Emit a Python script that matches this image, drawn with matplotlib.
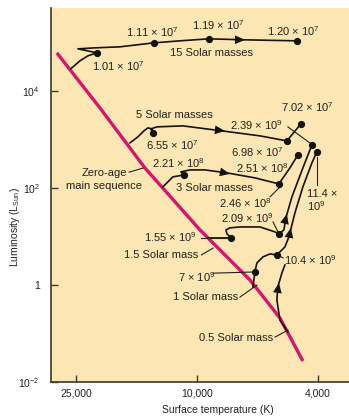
import matplotlib
matplotlib.use("Agg")
import matplotlib.pyplot as plt

plt.rcParams['font.family'] = ['Liberation Sans', 'DejaVu Sans']
plt.rcParams['mathtext.fontset'] = 'custom'
plt.rcParams['mathtext.rm'] = 'Liberation Sans'
plt.rcParams['mathtext.it'] = 'Liberation Sans:italic'
plt.rcParams['mathtext.bf'] = 'Liberation Sans:bold'

# zero-age main sequence (temperature K, luminosity L_sun)
zams_T = [28900, 20850, 14830, 9770, 6694, 5333, 4481]
zams_L = [60750, 4462, 258, 13.6, 1.27, 0.209, 0.0271]

# evolutionary tracks
m15_T = [26000, 24260, 22830, 21320, 24630, 21650, 17900, 13850, 11370, 9130, 6950, 4690]
m15_L = [28400, 41550, 52700, 60750, 73450, 77000, 80800, 97650, 107400, 118100, 112600, 107400]
m15_dots = [3, 7, 9, 11]

m5_T = [16610, 15640, 14940, 14500, 14060, 13950, 14170, 13540, 11120, 8275, 6203, 5058, 4549]
m5_L = [847, 1126, 1497, 1726, 1646, 1361, 1646, 1810, 1898, 1497, 1181, 931, 2087]
m5_dots = [5, 11, 12]

m3_T = [12940, 11990, 11030, 11290, 10540, 9410, 7966, 6446, 5375, 4944, 4654]
m3_L = [105, 169, 185, 214, 235, 235, 204, 161, 121, 258, 479]
m3_dots = [2, 8, 10]

m15s_T = [9200, 7728, 7966, 8027, 7787, 7219, 6203, 5540, 5375, 5175, 5097, 4870, 4481, 4185]
m15s_L = [9.31, 9.31, 11.3, 13.6, 15.0, 15.7, 15.7, 12.4, 11.3, 13.6, 24.1, 65.2, 258, 770]
m15s_dots = [1, 8, 13]

m1_T = [6545, 6495, 6446, 6349, 6066, 5754, 5457, 5135, 4982, 4760, 4481, 4185, 4030]
m1_L = [0.91, 1.27, 1.85, 2.84, 3.78, 4.36, 4.16, 6.07, 9.77, 30.5, 105, 328, 553]
m1_dots = [2, 6, 12]

m05_T = [5020, 5333, 5457, 5416, 5253, 5135]
m05_L = [0.107, 0.190, 0.491, 0.91, 1.77, 2.58]

# arrowheads: (tail T, tail L, head T, head L)
arrows = [
    (7500, 113000, 6950, 112600),
    (8730, 1570, 8090, 1497),
    (8400, 214, 7790, 194),
    (5135, 19.9, 5058, 29.1),
    (4982, 9.31, 4907, 15.0),
    (5437, 0.684, 5375, 1.10),
]

x_ticks = [25000, 10000, 4000]
x_ticklabels = ['25,000', '10,000', '4,000']
y_ticks = [0.01, 1, 100, 1e4]
y_ticklabels = ['10$^{-2}$', '1', '10$^2$', '10$^4$']

# labels: text, axes-fraction position, alignment
labels = [
    ('1.01 × 10$^7$', 0.225, 0.845, 'center'),
    ('1.11 × 10$^7$', 0.339, 0.936, 'center'),
    ('1.19 × 10$^7$', 0.560, 0.955, 'center'),
    ('1.20 × 10$^7$', 0.812, 0.939, 'center'),
    ('15 Solar masses', 0.540, 0.880, 'center'),
    ('5 Solar masses', 0.413, 0.714, 'center'),
    ('6.55 × 10$^7$', 0.406, 0.634, 'center'),
    ('2.39 × 10$^9$', 0.688, 0.687, 'center'),
    ('7.02 × 10$^7$', 0.859, 0.735, 'center'),
    ('6.98 × 10$^7$', 0.691, 0.615, 'center'),
    ('2.21 × 10$^8$', 0.426, 0.586, 'center'),
    ('2.51 × 10$^8$', 0.708, 0.572, 'center'),
    ('3 Solar masses', 0.547, 0.519, 'center'),
    ('2.46 × 10$^8$', 0.651, 0.479, 'center'),
    ('2.09 × 10$^9$', 0.658, 0.439, 'center'),
    ('Zero-age', 0.178, 0.559, 'center'),
    ('main sequence', 0.178, 0.524, 'center'),
    ('11.4 ×', 0.859, 0.503, 'left'),
    ('10$^9$', 0.859, 0.471, 'left'),
    ('1.55 × 10$^9$', 0.399, 0.388, 'center'),
    ('1.5 Solar mass', 0.369, 0.340, 'center'),
    ('7 × 10$^9$', 0.490, 0.281, 'center'),
    ('1 Solar mass', 0.517, 0.227, 'center'),
    ('10.4 × 10$^9$', 0.869, 0.326, 'center'),
    ('0.5 Solar mass', 0.621, 0.118, 'center'),
]

leaders = [
    (0.795, 0.682, 0.869, 0.639),
    (0.262, 0.561, 0.309, 0.572),
    (0.735, 0.495, 0.768, 0.521),
    (0.745, 0.428, 0.762, 0.401),
    (0.893, 0.602, 0.893, 0.527),
    (0.505, 0.385, 0.594, 0.385),
    (0.505, 0.340, 0.544, 0.358),
    (0.544, 0.291, 0.674, 0.294),
    (0.634, 0.227, 0.691, 0.259),
    (0.758, 0.340, 0.779, 0.332),
    (0.752, 0.120, 0.795, 0.139),
]

bg = '#fce6b3'
ink = '#15130e'
txt = '#24211b'

fig = plt.figure(figsize=(3.49, 4.18), dpi=100)
ax = fig.add_axes([51 / 349, 36 / 418, 298 / 349, 374 / 418])
ax.set_facecolor(bg)
ax.set_xscale('log')
ax.set_yscale('log')
ax.set_xlim(30200, 3160)
ax.set_ylim(0.01, 5.1e5)

ax.plot(zams_T, zams_L, color='#d8146e', lw=2.4, solid_capstyle='butt', zorder=2)

tracks = [(m15_T, m15_L, m15_dots), (m5_T, m5_L, m5_dots), (m3_T, m3_L, m3_dots),
          (m15s_T, m15s_L, m15s_dots), (m1_T, m1_L, m1_dots), (m05_T, m05_L, [])]
for T, L, dots in tracks:
    ax.plot(T, L, color=ink, lw=1.2, zorder=3)
    ax.plot([T[i] for i in dots], [L[i] for i in dots], 'o', color=ink, ms=4.2, zorder=4)

for t0, l0, t1, l1 in arrows:
    ax.annotate('', xy=(t1, l1), xytext=(t0, l0),
                arrowprops=dict(arrowstyle='-|>,head_length=0.8,head_width=0.35', color=ink,
                                lw=0, mutation_scale=9, shrinkA=0, shrinkB=0), zorder=5)

for s, fx, fy, ha in labels:
    ax.text(fx, fy, s, transform=ax.transAxes, ha=ha, va='center', fontsize=8, color=txt)

for x0, y0, x1, y1 in leaders:
    ax.plot([x0, x1], [y0, y1], transform=ax.transAxes, color=txt, lw=0.8, zorder=3)

ax.spines['top'].set_visible(False)
ax.spines['right'].set_visible(False)
for sp in ['left', 'bottom']:
    ax.spines[sp].set_color('#3b382a')
    ax.spines[sp].set_linewidth(1.2)

ax.set_xticks(x_ticks)
ax.set_xticklabels(x_ticklabels)
ax.set_yticks(y_ticks)
ax.set_yticklabels(y_ticklabels)
ax.minorticks_off()
ax.tick_params(direction='in', length=5, width=1, color='#3b382a', labelsize=7.5,
               labelcolor=txt, pad=5)
ax.tick_params(axis='y', pad=8)

ax.set_xlabel('Surface temperature (K)', fontsize=7.5, color=txt, va='center')
ax.xaxis.set_label_coords(0.56, -0.075)
ax.set_ylabel('Luminosity (L$_{\\mathrm{Sun}}$)', fontsize=7.5, color=txt, va='center')
ax.yaxis.set_label_coords(-0.121, 0.415)

fig.savefig('out.png', dpi=100)
